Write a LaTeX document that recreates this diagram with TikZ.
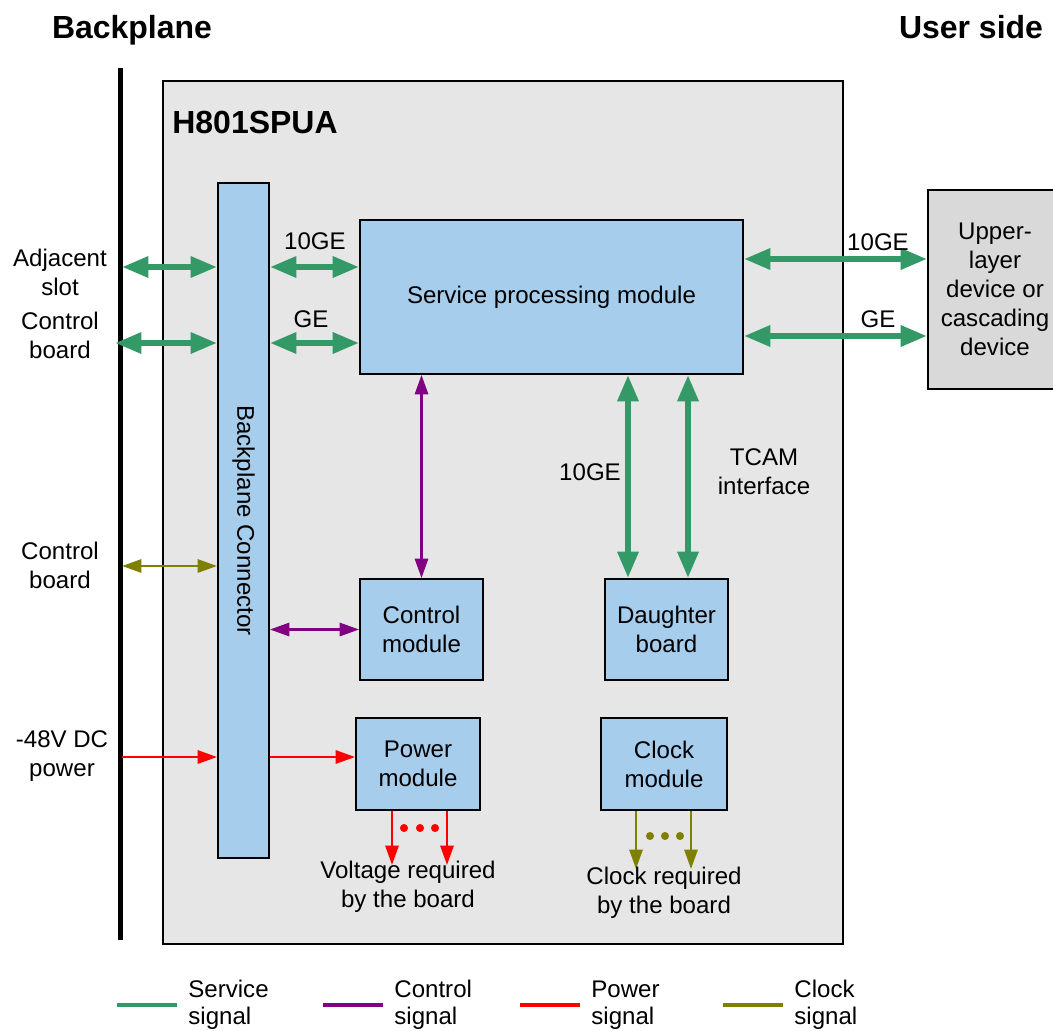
\documentclass[tikz,border=0pt]{standalone}
\usepackage{fontspec}
\setmainfont{Liberation Sans}
\usepackage{xcolor}
\usetikzlibrary{arrows.meta}

\definecolor{svcgreen}{RGB}{51,153,102}
\definecolor{modblue}{RGB}{166,205,236}
\definecolor{boardgray}{RGB}{230,230,230}
\definecolor{devgray}{RGB}{217,217,217}
\definecolor{ctlpurple}{RGB}{128,0,128}
\definecolor{clkolive}{RGB}{128,128,0}

\begin{document}
\begin{tikzpicture}[x=0.02cm,y=-0.02cm,
    font=\fontsize{13.7}{16.5}\selectfont,
    box/.style={draw,line width=1.1pt,fill=modblue,inner sep=0pt,align=center},
    svc/.style={svcgreen,line width=3.4pt,>={Triangle[length=15pt,width=11.4pt]},<->},
    sig/.style={line width=1.3pt,>={Triangle[length=11pt,width=7.5pt]}},
    ctl/.style={sig,ctlpurple,<->},
    pwr/.style={sig,red,->},
    clk/.style={sig,clkolive},
    title/.style={font=\bfseries\fontsize{18.2}{22}\selectfont}]
    \useasboundingbox (0,0) rectangle (1053,1030);

    \node[title,anchor=base] (bptitle) at (132,39) {Backplane};
    \node[title,anchor=base] (ustitle) at (971,39) {User side};

    \coordinate (bptop) at (120.5,68);
    \coordinate (bpbot) at (120.5,940);
    \draw[line width=2.8pt] (bptop) -- (bpbot);

    \node[draw,line width=0.8pt,fill=boardgray,minimum width=13.6cm,minimum height=17.26cm] (board) at (503,512.5) {};
    \node[title,anchor=west,inner sep=0pt] (boardname) at (172,122) {H801SPUA};

    \node[box,minimum width=1.02cm,minimum height=13.5cm] (conn) at (243.5,520.5) {};
    \node[rotate=-90] (connlbl) at (conn) {Backplane Connector};
    \node[box,minimum width=7.66cm,minimum height=3.08cm] (spm) at (551.5,297) {Service processing module};
    \node[box,fill=devgray,minimum width=2.68cm,minimum height=3.98cm] (dev) at (995,289.5)
        {Upper-\\layer\\device or\\cascading\\device};
    \node[box,minimum width=2.46cm,minimum height=2.02cm] (ctlm) at (421.5,629.5) {Control\\module};
    \node[box,minimum width=2.46cm,minimum height=2.02cm] (dtr) at (666.5,629.5) {Daughter\\board};
    \node[box,minimum width=2.48cm,minimum height=1.84cm] (pwrm) at (418,764) {Power\\module};
    \node[box,minimum width=2.52cm,minimum height=1.84cm] (clkm) at (664,764) {Clock\\module};

    \node[align=center] (adjlbl) at (60,272) {Adjacent\\slot};
    \node[align=center] (ctllbl) at (60,335) {Control\\board};
    \node[align=center] (clklbl) at (60,565) {Control\\board};
    \node[align=center] (pwrlbl) at (62,756) {-48V DC\\power};

    \coordinate (adj) at (122,267);
    \coordinate (ctlb) at (115,343);
    \coordinate (clkin) at (122,566);
    \coordinate (pwrin) at (122,757);
    \draw[svc] (adj) -- (conn.west |- adj);
    \draw[svc] (ctlb) -- (conn.west |- ctlb);
    \draw[clk,<->] (clkin) -- (conn.west |- clkin);
    \draw[pwr] (pwrin) -- (conn.west |- pwrin);

    \draw[svc] (conn.east |- adj) -- (spm.west |- adj);
    \draw[svc] (conn.east |- ctlb) -- (spm.west |- ctlb);
    \node (ge10a) at (315,241) {10GE};
    \node (gea) at (311,319) {GE};

    \coordinate (up10) at (0,259);
    \coordinate (upge) at (0,336);
    \draw[svc] (spm.east |- up10) -- (dev.west |- up10);
    \draw[svc] (spm.east |- upge) -- (dev.west |- upge);
    \node (ge10b) at (878,242) {10GE};
    \node (geb) at (878,319) {GE};

    \coordinate (dv1) at (628,0);
    \coordinate (dv2) at (688,0);
    \draw[svc] (spm.south -| dv1) -- (dtr.north -| dv1);
    \draw[svc] (spm.south -| dv2) -- (dtr.north -| dv2);
    \node (ge10c) at (590,472) {10GE};
    \node[align=center] (tcam) at (764,472) {TCAM\\interface};

    \draw[ctl] (spm.south -| ctlm.north) -- (ctlm.north);
    \draw[ctl] (conn.east |- ctlm.west) -- (ctlm.west);
    \draw[pwr] (conn.east |- pwrin) -- (pwrm.west |- pwrin);

    \foreach \x in {392,447}{
        \coordinate (vout\x) at (\x,865);
        \draw[pwr] (pwrm.south -| vout\x) -- (vout\x);
    }
    \foreach \x in {404,420,435}{
        \fill[red] (\x,828) circle[radius=2.3pt];
    }
    \node[align=center] (voltlbl) at (408,887) {Voltage required\\by the board};

    \foreach \x in {636,691}{
        \coordinate (cout\x) at (\x,869);
        \draw[clk,->] (clkm.south -| cout\x) -- (cout\x);
    }
    \foreach \x in {650,665,680}{
        \fill[clkolive] (\x,836) circle[radius=2.3pt];
    }
    \node[align=center] (clkreq) at (664,893) {Clock required\\by the board};

    \foreach \x/\col/\lab in {117/svcgreen/Service,323/ctlpurple/Control,520/red/Power,723/clkolive/Clock}{
        \coordinate (leg\lab) at (\x,1005);
        \draw[\col,line width=2.3pt] (leg\lab) -- ++(60,0)
            node[right,xshift=2pt,text=black,align=left,font=\fontsize{13.7}{15.4}\selectfont] (legtext\lab) {\lab\\signal};
    }
\end{tikzpicture}
\end{document}
